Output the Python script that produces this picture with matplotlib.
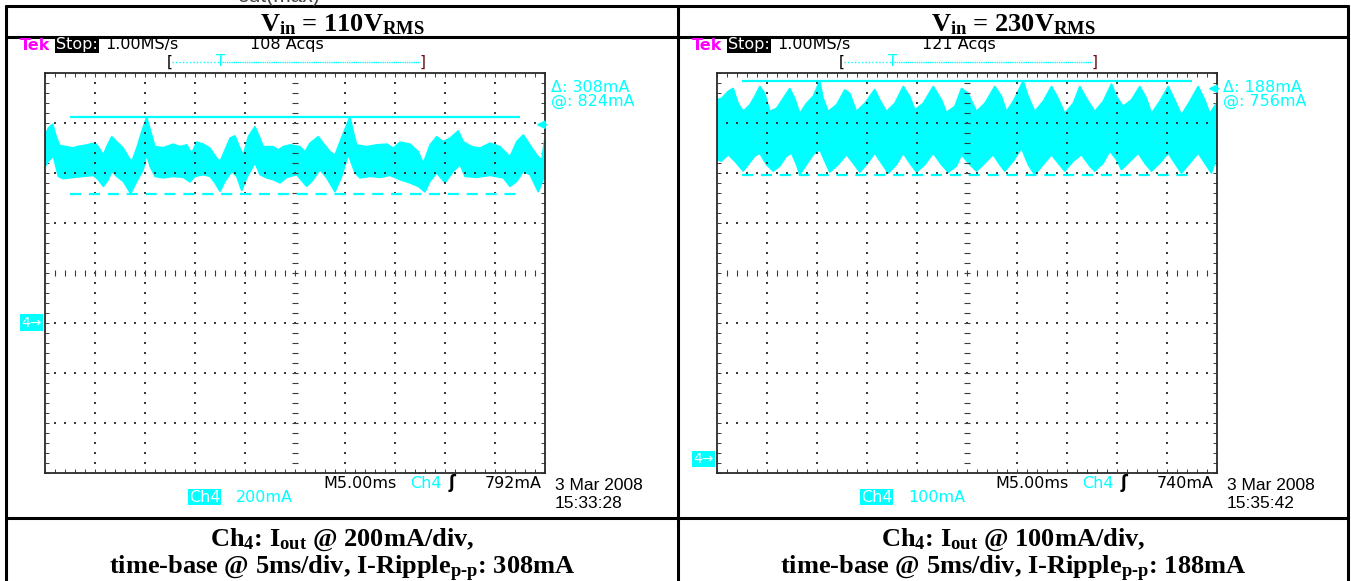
import matplotlib
import numpy as np

matplotlib.use("Agg")
import matplotlib.pyplot as plt

plt.rcParams["mathtext.fontset"] = "custom"
plt.rcParams["mathtext.rm"] = "Liberation Serif:bold"
plt.rcParams["mathtext.it"] = "Liberation Serif:bold"
plt.rcParams["mathtext.bf"] = "Liberation Serif:bold"

W, H = 1351, 581
CYAN = "#00ffff"

# per-panel scope settings (left = 110 V, right = 230 V)
VIN = ["110", "230"]
ACQS = ["108", "121"]
MA_PER_DIV = [200, 100]
GND_DIV = [3.0, 0.28]          # ground marker, divisions above screen bottom
TRIG_MA = [792, 740]
CURSOR_AT = [824, 756]
CURSOR_DELTA = [308, 188]
DATES = ["3 Mar 2008", "3 Mar 2008"]
TIMES = ["15:33:28", "15:35:42"]

# envelope of the Ch4 trace (ms, mA)
L_T_UP = [0.0, 0.38, 0.82, 1.22, 1.55, 2.22, 2.88, 3.22, 3.88, 4.55, 5.05, 5.38, 5.88, 6.22,
          6.72, 7.22, 7.88, 8.38, 8.72, 9.22, 9.72, 10.22, 10.72, 11.05, 11.88, 12.88, 13.55,
          14.22, 14.72, 15.22, 15.88, 16.55, 17.22, 17.55, 18.05, 18.55, 19.05, 19.55, 19.88,
          20.38, 21.05, 21.55, 21.88, 22.88, 23.38, 23.88, 24.55, 25.55, 26.05, 26.55, 27.38,
          27.88, 28.55, 29.05, 29.55, 30.22, 30.55, 30.88, 31.22, 32.22, 33.22, 34.22, 34.88,
          35.55, 36.55, 37.38, 37.88, 38.55, 39.22, 39.88, 40.55, 41.38, 41.88, 42.72, 43.55,
          44.55, 45.55, 46.55, 47.22, 47.88, 48.55, 49.22, 49.72, 50.0]
L_UP = [745, 779, 795, 739, 709, 705, 699, 705, 709, 715, 719, 705, 672, 705,
        745, 725, 699, 665, 645, 699, 765, 824, 752, 705, 701, 715, 705,
        712, 679, 723, 715, 699, 659, 645, 692, 739, 748, 699, 672,
        745, 785, 739, 705, 705, 692, 705, 712, 705, 685, 719, 745,
        719, 685, 672, 725, 792, 824, 765, 712, 705, 712, 715, 699,
        723, 715, 685, 639, 712, 745, 725, 739, 768, 725, 705, 699,
        719, 705, 665, 725, 752, 712, 672, 652, 732]
L_T_LO = [0.0, 0.38, 0.88, 1.38, 1.88, 2.88, 3.88, 4.88, 5.38, 5.88, 6.38, 6.72, 7.22, 7.88,
          8.38, 8.62, 9.22, 9.88, 10.22, 10.55, 11.05, 11.88, 12.88, 13.88, 14.55, 15.05,
          15.88, 16.55, 17.05, 17.55, 18.05, 18.72, 19.22, 19.72, 20.22, 21.05, 21.55, 22.22,
          22.88, 23.55, 24.22, 25.22, 26.22, 26.88, 27.55, 28.22, 29.05, 29.72, 30.38, 31.05,
          31.55, 32.55, 33.55, 34.55, 35.55, 36.55, 37.38, 38.05, 38.55, 39.22, 40.05, 40.88,
          41.55, 42.05, 43.22, 44.55, 45.88, 46.55, 47.22, 47.88, 48.55, 49.38, 50.0]
L_LO = [619, 645, 665, 585, 576, 581, 585, 589, 572, 545, 572, 605, 585, 565,
        532, 516, 565, 612, 672, 625, 585, 579, 585, 581, 563, 585,
        592, 585, 559, 525, 565, 605, 585, 528, 579, 639, 592, 579,
        572, 559, 581, 592, 545, 572, 612, 579, 523, 585, 672, 599,
        579, 585, 581, 589, 572, 559, 545, 523, 565, 599, 559, 605,
        632, 585, 581, 589, 579, 545, 565, 605, 592, 523, 585]

R_T_UP = [0.0, 0.5, 1.17, 1.67, 2.17, 2.67, 3.33, 3.83, 4.33, 4.83, 5.33, 6.0, 6.67, 7.33,
          7.83, 8.33, 9.0, 9.67, 10.33, 10.67, 11.17, 12.0, 12.83, 13.33, 14.0, 14.83, 15.83,
          16.33, 17.0, 17.83, 18.67, 19.33, 19.83, 20.67, 21.67, 22.5, 23.0, 23.83, 24.5,
          25.17, 26.0, 26.83, 27.83, 28.5, 29.0, 29.67, 30.67, 31.17, 31.83, 32.67, 33.5,
          34.17, 34.83, 35.67, 36.33, 37.0, 37.83, 38.67, 39.5, 40.0, 40.67, 41.5, 42.33,
          43.0, 43.5, 44.33, 45.17, 45.83, 46.5, 47.33, 48.17, 48.83, 49.33, 50.0]
R_UP = [718, 721, 735, 741, 711, 695, 708, 725, 745, 731, 695, 701, 721, 741,
        721, 691, 711, 725, 756, 721, 695, 708, 738, 731, 695, 711, 739,
        718, 695, 711, 745, 725, 698, 711, 745, 718, 693, 705, 741,
        731, 695, 711, 745, 725, 695, 715, 756, 725, 695, 715, 745,
        721, 691, 711, 745, 721, 695, 715, 750, 725, 705, 718, 745,
        721, 691, 715, 745, 718, 688, 715, 745, 718, 691, 711]
R_T_LO = [0.0, 0.5, 1.17, 1.83, 2.67, 3.17, 3.83, 4.33, 5.0, 5.67, 6.33, 7.0, 7.5, 8.0,
          8.33, 9.0, 9.67, 10.33, 10.83, 11.33, 12.17, 13.0, 13.67, 14.33, 15.0, 15.83,
          16.5, 17.17, 18.0, 18.67, 19.33, 20.0, 20.83, 21.67, 22.5, 23.17, 24.0, 24.5,
          25.33, 26.0, 26.83, 27.67, 28.33, 28.83, 29.67, 30.5, 31.17, 31.83, 32.67, 33.5,
          34.17, 34.83, 35.67, 36.5, 37.33, 37.83, 38.67, 39.33, 40.0, 40.5, 41.17, 42.17,
          42.83, 43.5, 44.33, 45.17, 45.83, 46.5, 47.33, 48.17, 48.83, 49.5, 50.0]
R_LO = [598, 595, 608, 595, 575, 588, 605, 611, 588, 575, 585, 605, 611, 588,
        568, 588, 608, 618, 595, 573, 588, 608, 591, 573, 588, 611,
        591, 571, 588, 611, 591, 573, 588, 611, 588, 573, 585, 608,
        588, 575, 591, 608, 588, 575, 595, 621, 588, 568, 588, 608,
        591, 575, 595, 608, 585, 575, 591, 615, 598, 578, 591, 611,
        591, 575, 591, 611, 591, 571, 591, 611, 591, 571, 601]

TRACES = [(L_T_UP, L_UP, L_T_LO, L_LO), (R_T_UP, R_UP, R_T_LO, R_LO)]

SANS = "DejaVu Sans"
SERIF = "Liberation Serif"
DOT = "#3a3a3a"
FS = 11.5      # scope screen text
FT = 19        # table text


def pbox(x0, y0, x1, y1):
    return [x0 / W, 1 - y1 / H, (x1 - x0) / W, (y1 - y0) / H]


def draw_scope(ax, i):
    t_up, up, t_lo, lo = TRACES[i]
    per = MA_PER_DIV[i]
    y0 = -GND_DIV[i] * per
    y1 = y0 + 8 * per
    ax.set_xlim(0, 50)
    ax.set_ylim(y0, y1)

    xs = np.r_[t_up, t_lo[::-1]]
    ys = np.r_[up, lo[::-1]]
    ax.fill(xs, ys, color=CYAN, lw=1.0, zorder=2)

    # dotted graticule
    minor_y = y0 + np.arange(41) * per / 5
    vx = [t for t in range(5, 50, 5) if t != 25]
    gx, gy = np.meshgrid(vx, minor_y)
    ax.scatter(gx.ravel(), gy.ravel(), s=0.9, marker="s", color=DOT, lw=0, zorder=3)
    rows = [y0 + j * per for j in range(1, 8) if j != 4]
    gx, gy = np.meshgrid(np.arange(51), rows)
    ax.scatter(gx.ravel(), gy.ravel(), s=0.9, marker="s", color=DOT, lw=0, zorder=3)

    # centre cross with fine dots and ticks
    yc = y0 + 4 * per
    fine_t = np.arange(0, 50.01, 0.2)
    ax.scatter(fine_t, np.full_like(fine_t, yc), s=0.5, marker="s", color=DOT, lw=0, zorder=3)
    fine_y = np.arange(y0, y1 + 1e-6, per / 25)
    ax.scatter(np.full_like(fine_y, 25.0), fine_y, s=0.5, marker="s", color=DOT, lw=0, zorder=3)
    ax.plot(np.arange(51), np.full(51, yc), ls="none", marker="|", ms=4, mew=0.8, color=DOT, zorder=3)
    ax.plot(np.full(41, 25.0), minor_y, ls="none", marker="_", ms=4, mew=0.8, color=DOT, zorder=3)

    # cursors
    at = CURSOR_AT[i]
    ax.hlines(at, 2.5, 47.5, color=CYAN, lw=1.6, zorder=4)
    ax.hlines(at - CURSOR_DELTA[i], 2.5, 47.5, color=CYAN, lw=1.6, ls=(0, (5, 3.5)), zorder=4)

    # trigger level arrow and ground marker
    ax.annotate("", xy=(48.9, TRIG_MA[i]), xytext=(50.5, TRIG_MA[i]),
                arrowprops=dict(arrowstyle="-|>", color=CYAN, lw=1.3, mutation_scale=12),
                annotation_clip=False, zorder=5)
    ax.text(-0.25, 0, "4\u2192", ha="right", va="center", fontsize=10, color="white",
            family=SANS, bbox=dict(boxstyle="square,pad=0.1", fc=CYAN, ec="none"))

    ax.set_xticks(np.arange(51))
    ax.set_yticks(minor_y)
    ax.tick_params(direction="in", length=3, width=0.7, color=DOT,
                   top=True, right=True, labelbottom=False, labelleft=False)
    for s in ax.spines.values():
        s.set_color("#2a2a2a")
        s.set_linewidth(1.3)


fig = plt.figure(figsize=(W / 100, H / 100), dpi=100)
ov = fig.add_axes([0, 0, 1, 1])
ov.set_xlim(0, W)
ov.set_ylim(H, 0)
ov.axis("off")

# table frame
for y in (6, 37, 518):
    ov.plot([5, 1349], [y, y], color="black", lw=2.2, solid_capstyle="butt")
for x in (6, 678, 1348):
    ov.plot([x, x], [5, H], color="black", lw=2.2, solid_capstyle="butt")

ov.text(278, -3, "out(max)", ha="center", va="center", fontsize=15, color="#444",
        family="Liberation Sans")

for i in range(2):
    dx = 672 * i
    cx = 342 + 671 * i
    ov.text(cx, 31, r"V$_{\rm in}$ = " + VIN[i] + r"V$_{\rm RMS}$", ha="center",
            va="baseline", fontsize=FT, family=SERIF, weight="bold")
    ov.text(cx, 546, r"Ch$_4$: I$_{\rm out}$ @ " + str(MA_PER_DIV[i]) + "mA/div,",
            ha="center", va="baseline", fontsize=FT, family=SERIF, weight="bold")
    ov.text(cx, 574, r"time-base @ 5ms/div, I-Ripple$_{\rm p\text{-}p}$: "
            + str(CURSOR_DELTA[i]) + "mA",
            ha="center", va="baseline", fontsize=FT, family=SERIF, weight="bold")

    # scope header
    ov.text(20 + dx, 45, "Tek", color="#ff00ff", fontsize=FS, family=SANS, va="center",
            weight="bold")
    ov.text(56 + dx, 45, "Stop:", color="white", fontsize=FS, family=SANS, va="center",
            bbox=dict(boxstyle="square,pad=0.05", fc="black", ec="none"))
    ov.text(105 + dx, 45, "1.00MS/s", fontsize=FS, family=SANS, va="center")
    ov.text(250 + dx, 45, ACQS[i] + " Acqs", fontsize=FS, family=SANS, va="center")
    ov.plot([172 + dx, 220 + dx], [62, 62], color=CYAN, lw=1, ls=(0, (1, 1.5)))
    ov.plot([222 + dx, 420 + dx], [62, 62], color=CYAN, lw=1, ls=(0, (1, 0.6)))
    ov.text(170 + dx, 62, "[", fontsize=11, family=SANS, va="center", ha="center")
    ov.text(423 + dx, 62, "]", fontsize=11, family=SANS, va="center", ha="center",
            color="#661111")
    ov.text(221 + dx, 61, "T", fontsize=11, family=SANS, va="center", ha="center", color=CYAN)

    # cursor readout
    ov.text(551 + dx, 87, "\u0394: " + str(CURSOR_DELTA[i]) + "mA", fontsize=FS,
            family=SANS, color=CYAN, va="center")
    ov.text(551 + dx, 101, "@: " + str(CURSOR_AT[i]) + "mA", fontsize=FS,
            family=SANS, color=CYAN, va="center")

    # footer
    ov.text(323 + dx, 483, "M5.00ms", fontsize=FS, family=SANS, va="center")
    ov.text(410 + dx, 483, "Ch4", fontsize=FS, family=SANS, va="center", color=CYAN)
    ov.text(452 + dx, 483, "\u0283", fontsize=12, family=SANS, va="center", ha="center",
            weight="bold")
    ov.text(542 + dx, 483, str(TRIG_MA[i]) + "mA", fontsize=FS, family=SANS,
            va="center", ha="right")
    ov.text(555 + dx, 485, DATES[i], fontsize=12.5, family="Liberation Sans", va="center")
    ov.text(555 + dx, 504, TIMES[i], fontsize=12.5, family="Liberation Sans", va="center")
    ov.text(189 + dx, 497, "Ch4", fontsize=FS, family=SANS, va="center", color="white",
            bbox=dict(boxstyle="square,pad=0.05", fc=CYAN, ec="none"))
    ov.text(236 + dx, 497, str(MA_PER_DIV[i]) + "mA", fontsize=FS, family=SANS,
            va="center", color=CYAN)

    ax = fig.add_axes(pbox(44.5 + dx, 72.7, 544.5 + dx, 473))
    draw_scope(ax, i)

fig.savefig("out.png", dpi=100)
